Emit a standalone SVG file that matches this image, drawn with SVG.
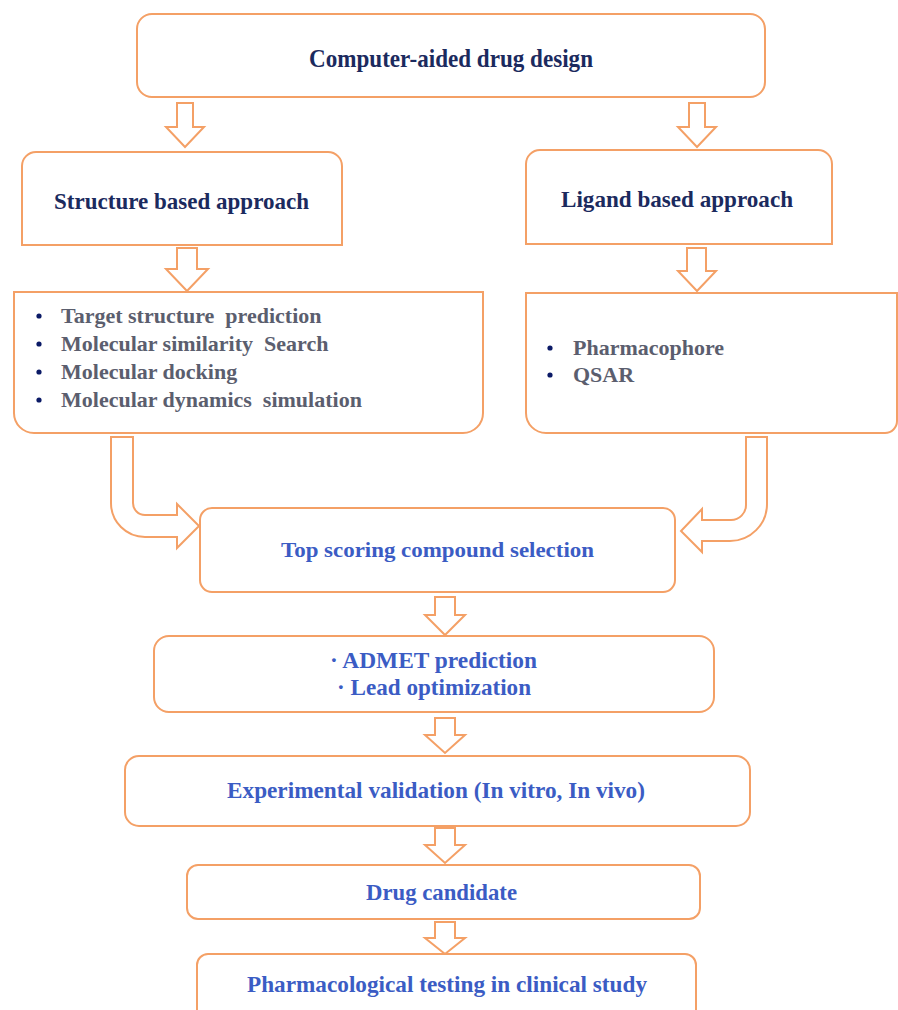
<svg xmlns="http://www.w3.org/2000/svg" width="898" height="1010" viewBox="0 0 898 1010">
<style>
.box{fill:#fff;stroke:#F4A066;stroke-width:2}
.arr{fill:#fff;stroke:#F4A066;stroke-width:2;stroke-linejoin:miter}
.t{font-family:"Liberation Serif","Times New Roman",serif;font-weight:bold}
.navy{fill:#1B2A5E}
.blue{fill:#3B5CC4}
.grey{fill:#5B5E6E;font-size:22px;white-space:pre}
.dot{fill:#0B1A66}
</style>
<rect width="898" height="1010" fill="#fff"/>
<g id="connectors">
<path class="arr" d="M177,103 H193 V127 H204 L185,147 L166,127 H177 Z"/>
<path class="arr" d="M689,103 H705 V127 H716 L697,147 L678,127 H689 Z"/>
<path class="arr" d="M177,248 H197 V269 H208 L187,291 L166,269 H177 Z"/>
<path class="arr" d="M687,248 H706 V271 H716 L697,291 L678,271 H687 Z"/>
<path class="arr" d="M111,437 H133 V503 A12,12 0 0 0 145,515 H177 V504 L199,526 L177,548 V537 H145 A34,34 0 0 1 111,503 Z"/>
<path class="arr" d="M767,437 H746 V505 A15,15 0 0 1 731,520 H702 V509 L681,531 L702,552 V541 H730 A37,37 0 0 0 767,504 Z"/>
<path class="arr" d="M435,597 H455 V615 H465 L445,635 L425,615 H435 Z"/>
<path class="arr" d="M435,718 H455 V735 H465 L445,753 L425,735 H435 Z"/>
<path class="arr" d="M435,828 H455 V845 H465 L445,863 L425,845 H435 Z"/>
<path class="arr" d="M435,922 H455 V938 H465 L445,954 L425,938 H435 Z"/>
</g>
<g id="cadd">
<rect class="box" x="137" y="14" width="628" height="83" rx="15"/>
<text class="t navy" x="309" y="67" font-size="25" textLength="284" lengthAdjust="spacingAndGlyphs">Computer-aided drug design</text>
</g>
<g id="structure">
<path class="box" d="M22,245 V166 A14,14 0 0 1 36,152 H328 A14,14 0 0 1 342,166 V245 Z"/>
<text class="t navy" x="54" y="209" font-size="24" textLength="255" lengthAdjust="spacingAndGlyphs">Structure based approach</text>
</g>
<g id="ligand">
<path class="box" d="M526,244 V164 A14,14 0 0 1 540,150 H818 A14,14 0 0 1 832,164 V244 Z"/>
<text class="t navy" x="561" y="207" font-size="24" textLength="232" lengthAdjust="spacingAndGlyphs">Ligand based approach</text>
</g>
<g id="structure-methods">
<path class="box" d="M14,292 H483 V413 A20,20 0 0 1 463,433 H34 A20,20 0 0 1 14,413 Z"/>
<circle class="dot" cx="39" cy="316" r="2.6"/>
<circle class="dot" cx="39" cy="344" r="2.6"/>
<circle class="dot" cx="39" cy="372" r="2.6"/>
<circle class="dot" cx="39" cy="400" r="2.6"/>
<text class="t grey" x="61" y="323">Target structure  prediction</text>
<text class="t grey" x="61" y="351">Molecular similarity  Search</text>
<text class="t grey" x="61" y="379">Molecular docking</text>
<text class="t grey" x="61" y="407">Molecular dynamics  simulation</text>
</g>
<g id="ligand-methods">
<path class="box" d="M526,293 H897 V421 A12,12 0 0 1 885,433 H546 A20,20 0 0 1 526,413 Z"/>
<circle class="dot" cx="550" cy="348" r="2.6"/>
<circle class="dot" cx="550" cy="375" r="2.6"/>
<text class="t grey" x="573" y="355">Pharmacophore</text>
<text class="t grey" x="573" y="382">QSAR</text>
</g>
<g id="top-scoring">
<rect class="box" x="200" y="508" width="475" height="84" rx="12"/>
<text class="t blue" x="281" y="557" font-size="22" textLength="313" lengthAdjust="spacingAndGlyphs">Top scoring  compound  selection</text>
</g>
<g id="admet">
<rect class="box" x="154" y="636" width="560" height="76" rx="15"/>
<text class="t blue" x="330" y="668" font-size="23" textLength="207" lengthAdjust="spacingAndGlyphs">· ADMET  prediction</text>
<text class="t blue" x="337" y="695" font-size="23" textLength="194" lengthAdjust="spacingAndGlyphs">· Lead optimization</text>
</g>
<g id="validation">
<rect class="box" x="125" y="756" width="625" height="70" rx="14"/>
<text class="t blue" x="227" y="798" font-size="23" textLength="418" lengthAdjust="spacingAndGlyphs">Experimental  validation  (In vitro, In vivo)</text>
</g>
<g id="candidate">
<rect class="box" x="187" y="865" width="513" height="54" rx="11"/>
<text class="t blue" x="366" y="900" font-size="23" textLength="151" lengthAdjust="spacingAndGlyphs">Drug candidate</text>
</g>
<g id="clinical">
<rect class="box" x="197" y="954" width="499" height="80" rx="11"/>
<text class="t blue" x="247" y="992" font-size="23" textLength="400" lengthAdjust="spacingAndGlyphs">Pharmacological  testing in clinical study</text>
</g>
</svg>
